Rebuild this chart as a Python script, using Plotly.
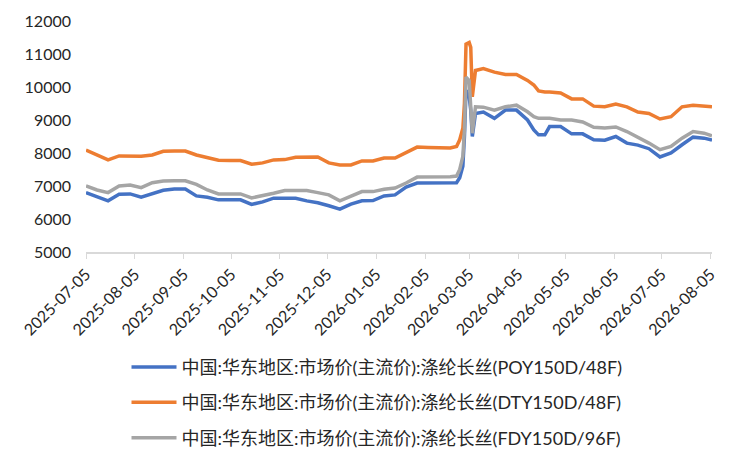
import plotly.graph_objects as go

# sample dates (weekly, denser around the March spike)
dates = [
    "2025-07-05", "2025-07-12", "2025-07-19", "2025-07-26", "2025-08-02", "2025-08-09",
    "2025-08-16", "2025-08-23", "2025-08-30", "2025-09-06", "2025-09-13", "2025-09-20",
    "2025-09-27", "2025-10-04", "2025-10-11", "2025-10-18", "2025-10-25", "2025-11-01",
    "2025-11-08", "2025-11-15", "2025-11-22", "2025-11-29", "2025-12-06", "2025-12-13",
    "2025-12-20", "2025-12-27", "2026-01-03", "2026-01-10", "2026-01-17", "2026-01-24",
    "2026-01-31", "2026-02-07", "2026-02-14", "2026-02-21",
    "2026-02-25", "2026-02-27", "2026-03-01", "2026-03-02", "2026-03-03", "2026-03-05",
    "2026-03-06", "2026-03-07", "2026-03-09",
    "2026-03-14", "2026-03-21", "2026-03-28", "2026-04-04", "2026-04-11", "2026-04-15",
    "2026-04-18", "2026-04-22", "2026-04-25", "2026-05-02", "2026-05-09", "2026-05-16",
    "2026-05-23", "2026-05-30", "2026-06-06", "2026-06-13", "2026-06-20", "2026-06-27",
    "2026-07-04", "2026-07-11", "2026-07-18", "2026-07-25", "2026-08-01", "2026-08-06",
]

poy = [
    6800, 6680, 6550, 6750, 6760, 6660, 6760, 6870, 6910, 6910, 6700, 6660,
    6580, 6580, 6580, 6440, 6520, 6630, 6630, 6630, 6550, 6490, 6400, 6300,
    6450, 6550, 6560, 6700, 6730, 6970, 7090, 7090, 7090, 7090,
    7100, 7250, 7600, 8500, 9900, 9700, 9300, 8500, 9200,
    9240, 9050, 9300, 9300, 9000, 8700, 8550, 8550, 8800, 8800, 8580, 8580,
    8400, 8390, 8500, 8300, 8240, 8130, 7880, 8000, 8250, 8480, 8450, 8390,
]

dty = [
    8090, 7940, 7790, 7910, 7910, 7900, 7940, 8050, 8060, 8060, 7940, 7870,
    7780, 7770, 7770, 7660, 7700, 7790, 7800, 7870, 7880, 7880, 7700, 7640,
    7640, 7760, 7760, 7850, 7850, 8030, 8180, 8170, 8160, 8150,
    8200, 8400, 8750, 9500, 11300, 11350, 11200, 9700, 10500,
    10560, 10450, 10380, 10380, 10200, 10060, 9880, 9850, 9850, 9820, 9640, 9640,
    9420, 9400, 9480, 9400, 9240, 9200, 9030, 9100, 9400, 9450, 9420, 9400,
]

fdy = [
    7000, 6880, 6800, 7000, 7030, 6950, 7100, 7150, 7160, 7160, 7050, 6880,
    6760, 6760, 6760, 6640, 6700, 6780, 6860, 6860, 6860, 6800, 6730, 6550,
    6700, 6830, 6830, 6900, 6940, 7090, 7270, 7270, 7280, 7280,
    7300, 7500, 7900, 8700, 10300, 10200, 9400, 8600, 9400,
    9390, 9300, 9400, 9450, 9250, 9100, 9050, 9050, 9050, 9000, 9000, 8940,
    8780, 8760, 8790, 8650, 8480, 8300, 8100, 8200, 8450, 8650, 8600, 8520,
]

series_names = [
    "中国:华东地区:市场价(主流价):涤纶长丝(POY150D/48F)",
    "中国:华东地区:市场价(主流价):涤纶长丝(DTY150D/48F)",
    "中国:华东地区:市场价(主流价):涤纶长丝(FDY150D/96F)",
]
colors = ["#4472C4", "#ED7D31", "#A5A5A5"]

font_family = "Lato, 'Noto Sans CJK SC', sans-serif"

fig = go.Figure()

for i, (name, values) in enumerate(zip(series_names, [poy, dty, fdy])):
    fig.add_trace(go.Scatter(
        x=dates, y=values, mode="lines", name=name,
        line=dict(color=colors[i], width=3.5),
        legendgroup=f"g{i}",
    ))

# the page body adds an 8px offset, so margins are trimmed to compensate
fig.update_layout(
    width=750, height=470,
    margin=dict(l=78, r=46, t=13, b=226, autoexpand=False),
    paper_bgcolor="white",
    plot_bgcolor="white",
    font=dict(family=font_family, size=16, color="#262626"),
    showlegend=True,
    legend=dict(
        orientation="v",
        xref="container", yref="container",
        x=0.158, y=0.275, xanchor="left", yanchor="top",
        font=dict(size=18, color="#262626"),
        tracegroupgap=9,
        itemwidth=45,
    ),
)

fig.update_xaxes(
    type="date",
    range=["2025-07-05", "2026-08-06"],
    tick0="2025-07-05", dtick="M1",
    tickformat="%Y-%m-%d",
    tickangle=-45,
    showgrid=False,
    showline=True, linecolor="#D9D9D9", linewidth=1.5,
    ticks="outside", ticklen=5, tickcolor="#D9D9D9",
    tickfont=dict(size=16),
    zeroline=False,
)

fig.update_yaxes(
    range=[5000, 12000],
    dtick=1000,
    tickformat="d",
    showgrid=False,
    showline=False,
    zeroline=False,
    ticks="",
    ticklabelstandoff=14,
    tickfont=dict(size=16),
)

fig.write_html("out.html")
